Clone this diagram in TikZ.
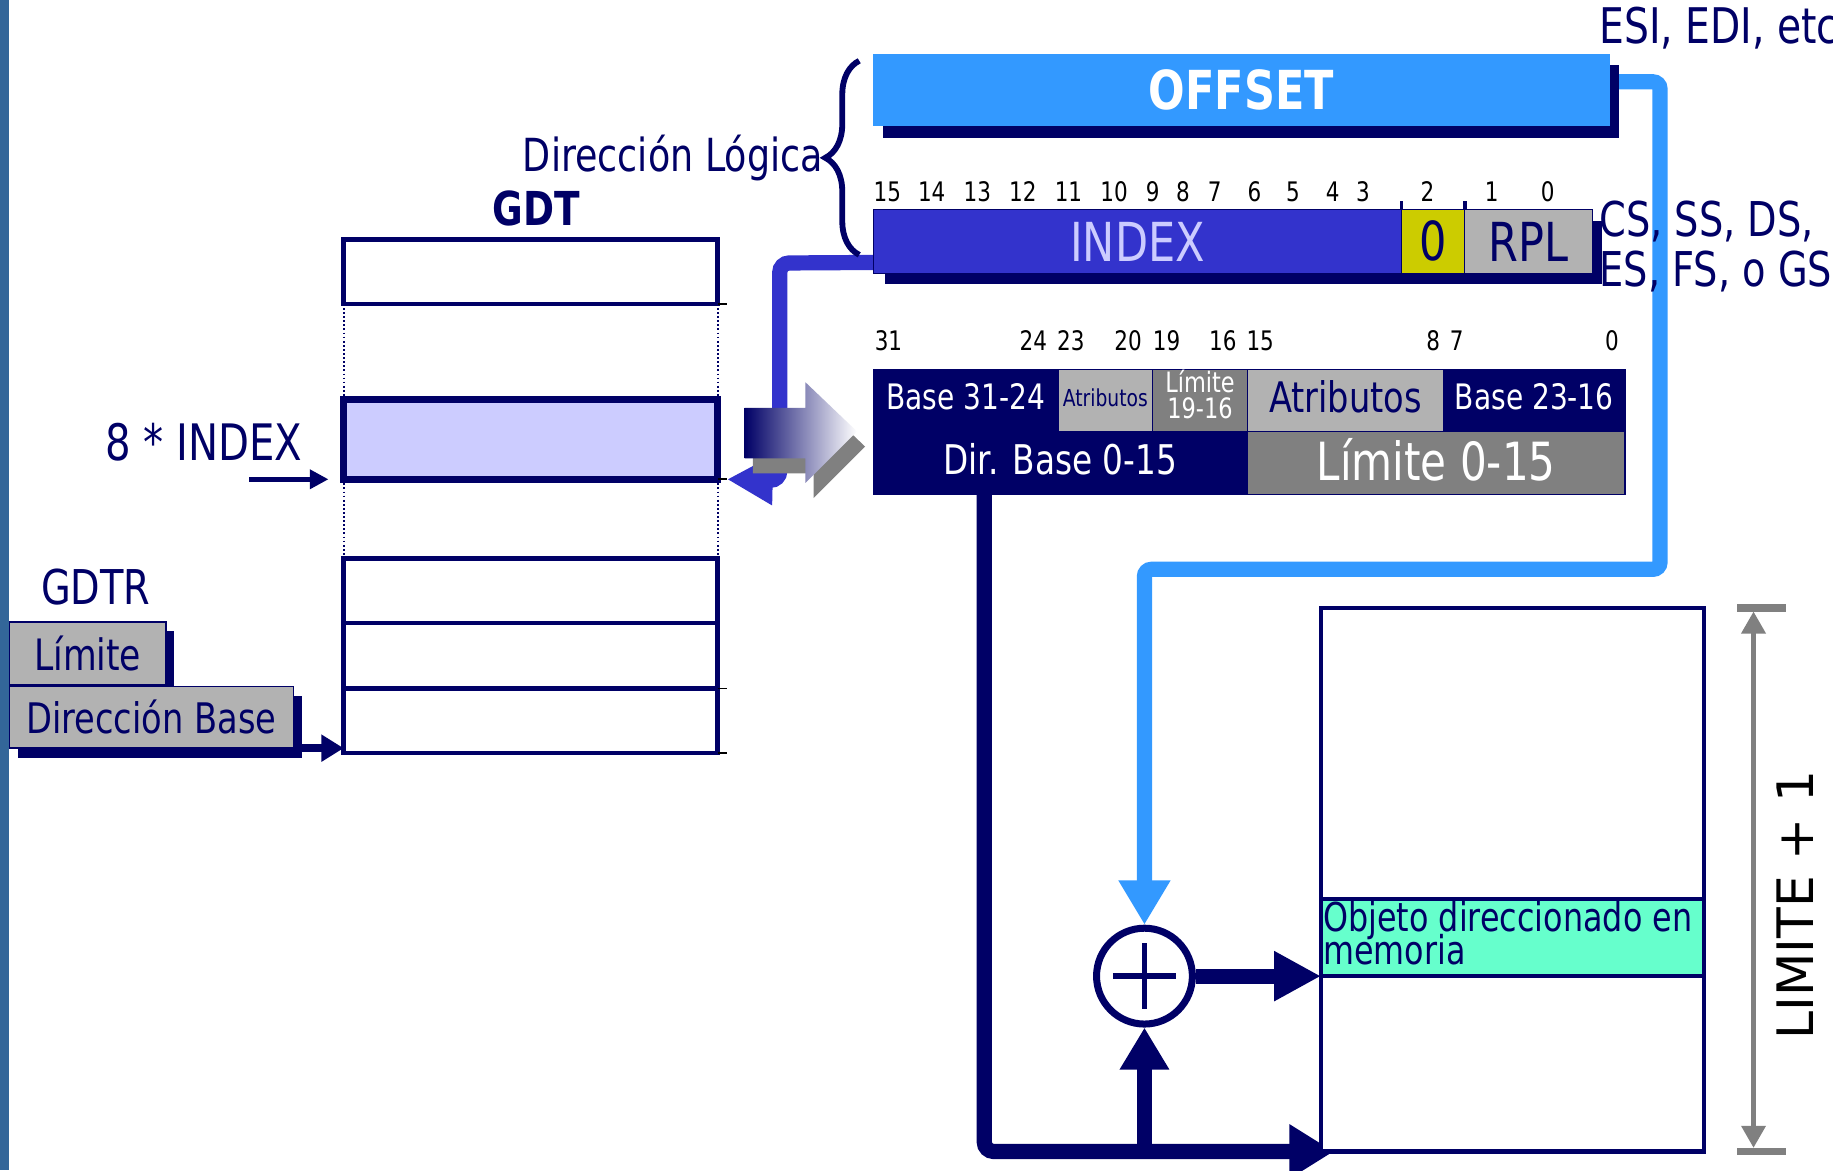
\documentclass[tikz,border=0pt]{standalone}
\usepackage{fontspec}
\setmainfont{DejaVu Sans}[FakeStretch=0.8]
\newfontfamily\widesans{DejaVu Sans}
\usetikzlibrary{arrows.meta,decorations.pathreplacing}
\definecolor{navy}{HTML}{000066}
\definecolor{offblue}{HTML}{3399FF}
\definecolor{selblue}{HTML}{3333CC}
\definecolor{lavender}{HTML}{CCCCFF}
\definecolor{selyellow}{HTML}{CCCC00}
\definecolor{ltgray}{HTML}{B2B2B2}
\definecolor{dkgray}{HTML}{808080}
\definecolor{aqua}{HTML}{66FFCC}
\definecolor{steel}{HTML}{336699}
\newcommand\fsz[1]{\fontsize{#1}{#1}\selectfont}
\pgfdeclarelayer{back}
\pgfsetlayers{back,main}
\tikzset{
  box/.style={anchor=north west, inner sep=0pt, outer sep=0pt},
  cell/.style={box, draw=navy, line width=1.2pt},
  gdtrow/.style={box, draw=navy, line width=4pt, fill=white, minimum width=320pt},
  regbox/.style={box, draw=navy, line width=1.2pt, fill=ltgray, text=navy},
  bitnum/.style={anchor=base, text=black, font=\fsz{23}},
  label/.style={text=navy, inner sep=0pt},
  heavy/.style={navy, line width=13pt},
}
\begin{document}
\begin{tikzpicture}[x=1pt,y=-1pt]
\useasboundingbox (0,0) rectangle (1568,1001);
\begin{pgfonlayer}{back}
  \fill[white] (0,0) rectangle (1568,1001);
\end{pgfonlayer}
\fill[steel] (0,0) rectangle (8,1001);

% ---------- logical address: offset and selector ----------
\node[label, anchor=base west, font=\fsz{42}] (esi) at (1368,37) {ESI, EDI, etc};
\fill[navy] (755,56) rectangle (1385,118);
\node[box, fill=offblue, minimum width=630pt, minimum height=62pt,
      text=white, font=\fsz{46}\bfseries] (offset) at (747,46) {OFFSET};

\draw[navy, line width=5pt, decorate, decoration={brace, amplitude=29pt}]
  (735,218) -- (735,52);
\node[label, anchor=base east, font=\fsz{39}] (dirlog) at (704,147) {Dirección Lógica};

\foreach \n/\x in {15/759,14/797,13/836,12/875,11/914,10/953,9/986,8/1012,
                   7/1039,6/1073,5/1106,4/1140,3/1166,2/1221,1/1276,0/1324}
  \node[bitnum] (sb\n) at (\x,172) {\n};
\draw[navy, line width=3pt] (1199,172) -- (1199,181) (1253,172) -- (1253,181);

\fill[navy] (757,189) rectangle (1370,243);
\node[cell, fill=selblue, minimum width=452pt, minimum height=55pt,
      text=lavender, font=\fsz{46}] (index) at (747,179) {INDEX};
\node[cell, fill=selyellow, minimum width=54pt, minimum height=55pt,
      text=navy, font=\fsz{46}] (zero) at (1199,179) {0};
\node[cell, fill=ltgray, minimum width=109pt, minimum height=55pt,
      text=navy, font=\fsz{46}] (rpl) at (1253,179) {RPL};
\node[label, anchor=base west, font=\fsz{41}] (segs1) at (1368,202) {CS, SS, DS,};
\node[label, anchor=base west, font=\fsz{41}] (segs2) at (1368,245) {ES, FS, o GS};

% ---------- GDT ----------
\node[label, anchor=base, font=\fsz{40}\bfseries] (gdtlbl) at (459,193) {GDT};
\node[gdtrow, minimum height=55pt] (g1) at (294,205) {};
\node[gdtrow, line width=6pt, fill=lavender, minimum height=68pt] (hl) at (294,342) {};
\node[gdtrow, minimum height=55pt] (g3) at (294,478) {};
\node[gdtrow, minimum height=56pt] (g4) at (294,533) {};
\node[gdtrow, minimum height=55pt] (g5) at (294,589) {};
\begin{pgfonlayer}{back}
  \draw[navy, dotted, line width=1.5pt] (g1.south west) -- (hl.north west)
        (g1.south east) -- (hl.north east)
        (hl.south west) -- (g3.north west) (hl.south east) -- (g3.north east);
\end{pgfonlayer}
\foreach \r in {g1,hl,g4,g5}
  \draw[black, line width=1.5pt] (\r.south east) -- ++(8,0);

\node[label, anchor=base west, font=\fsz{43}] (idxlbl) at (90,394) {8 * INDEX};
\coordinate (idxtail) at (213,410);
\draw[navy, line width=4pt, -{Triangle[length=16pt,width=16pt]}]
  (idxtail) -- ([xshift=-13pt]hl.south west);

% ---------- GDTR ----------
\node[label, anchor=base west, font=\fsz{41}] (gdtr) at (35,517) {GDTR};
\fill[navy] (15,540) rectangle (149,594);
\node[regbox, minimum width=134pt, minimum height=54pt, font=\fsz{37}] (glim) at (8,532) {Límite};
\fill[navy] (15,595) rectangle (258,648);
\node[regbox, minimum width=243pt, minimum height=53pt, font=\fsz{36}] (gbase) at (8,587) {Dirección Base};
\draw[navy, line width=7pt, -{Triangle[length=19pt,width=22pt]}]
  (gbase.south east) -- (gbase.south east -| g5.west);

% ---------- segment descriptor ----------
\foreach \n/\x in {31/760,24/884,23/916,20/965,19/998,16/1046,15/1078,8/1226,7/1246,0/1379}
  \node[bitnum] (db\n) at (\x,300) {\n};
\node[cell, fill=navy, minimum width=158pt, minimum height=53pt, text depth=6pt,
      text=white, font=\fsz{30}] (b3124) at (747,316) {Base 31-24};
\node[cell, fill=ltgray, minimum width=81pt, minimum height=53pt, text depth=5pt,
      text=navy, font=\fsz{20}] (attra) at (905,316) {Atributos};
\node[cell, fill=dkgray, minimum width=81pt, minimum height=53pt, align=center,
      text depth=10pt, text=white, font=\fontsize{24}{22}\selectfont] (l1916) at (986,316) {Límite\\19-16};
\node[cell, fill=ltgray, minimum width=168pt, minimum height=53pt, text depth=7pt,
      text=navy, font=\fsz{36}] (attrb) at (1067,316) {Atributos};
\node[cell, fill=navy, minimum width=155pt, minimum height=53pt, text depth=6pt,
      text=white, font=\fsz{30}] (b2316) at (1235,316) {Base 23-16};
\node[cell, fill=navy, minimum width=320pt, minimum height=54pt, text depth=6pt,
      text=white, font=\fsz{35}] (dbase) at (747,369) {Dir. Base 0-15};
\node[cell, fill=dkgray, minimum width=323pt, minimum height=54pt, text depth=6pt,
      text=white, font=\fsz{45}] (l015) at (1067,369) {Límite 0-15};

% ---------- 3D transfer arrow ----------
\fill[dkgray] (644,362) -- (696,362) -- (696,340) -- (740,382) -- (696,426)
  -- (696,405) -- (644,405) -- cycle;
\shade[left color=navy, right color=white] (637,349) -- (689,349) -- (689,327)
  -- (733,369) -- (689,413) -- (689,392) -- (637,392) -- cycle;

% ---------- memory and adder ----------
\node[box, draw=navy, line width=3.5pt, fill=white, minimum width=328pt,
      minimum height=465pt] (mem) at (1130,520) {};
\node[box, draw=navy, line width=3.5pt, fill=aqua, minimum width=328pt,
      minimum height=66pt] (obj) at (1130,769) {};
\node[box, text=navy, align=left, font=\fontsize{34}{26}\selectfont]
  (objtxt) at (1132,771) {Objeto direccionado en\\[-6pt]memoria};

\node[circle, draw=navy, line width=6pt, fill=white, minimum size=82pt,
      inner sep=0pt] (sum) at (979,835) {};
\draw[navy, line width=5pt] ([xshift=-27pt]sum.center) -- ([xshift=27pt]sum.center)
  ([yshift=-28pt]sum.center) -- ([yshift=28pt]sum.center);

% limit dimension
\draw[dkgray, line width=6.5pt] ([xshift=28pt]mem.north east) -- ([xshift=70pt]mem.north east)
  ([xshift=28pt]mem.south east) -- ([xshift=70pt]mem.south east);
\draw[dkgray, line width=5pt, {Triangle[length=19pt,width=20pt]}-{Triangle[length=19pt,width=20pt]}]
  ([xshift=42pt,yshift=-3pt]mem.north east) -- ([xshift=42pt,yshift=3pt]mem.south east);
\node[rotate=90, text=black, font=\widesans\fsz{43}, inner sep=0pt] (limlbl) at (1536,774) {LIMITE + 1};

% ---------- connectors ----------
\begin{pgfonlayer}{back}
  \draw[offblue, line width=13pt, rounded corners=6pt, -{Triangle[length=38pt,width=42pt]}]
    ([yshift=7pt]offset.east) -- (1420,70) -- (1420,487) -| (sum.north);
  \draw[selblue, line width=13pt, rounded corners=8pt, -{Triangle[length=39pt,width=40pt]}]
    ([yshift=-18pt]index.west) -- (667,225) -- (667,411) -- ([xshift=8pt]hl.south east);
  \draw[heavy, rounded corners=8pt, -{Triangle[length=38pt,width=44pt]}]
    ([xshift=-65pt]dbase.south) |- ([xshift=11pt]mem.south west);
\end{pgfonlayer}
\draw[heavy, -{Triangle[length=36pt,width=40pt]}] (sum |- mem.south) -- (sum.south);
\draw[heavy, -{Triangle[length=40pt,width=40pt]}] (sum.east) -- (sum.east -| mem.west);
\end{tikzpicture}
\end{document}
